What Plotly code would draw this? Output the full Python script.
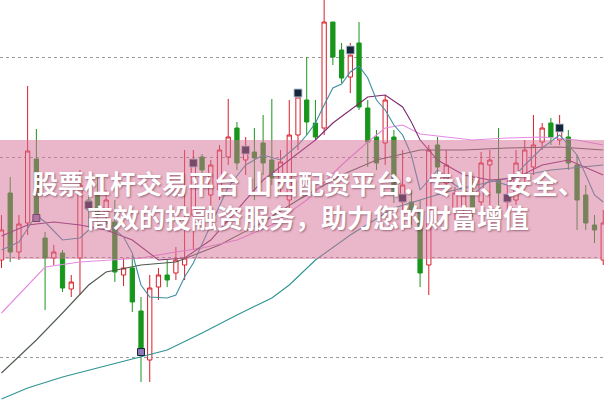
import plotly.graph_objects as go

# ---- candle data (index = trading day) ----
idx = list(range(70))
opens = [19.7, 26.4, 20.5, 23.4, 29.8, 21.9, 19.9, 20.4, 16.8, 19.9,
         25.7, 26.2, 24.5, 23.5, 18.2, 18.9, 14.6, 9.7, 17.0, 18.2,
         18.4, 19.2, 24.2, 30.0, 26.2, 26.7, 30.0, 32.9, 29.7, 30.5,
         31.4, 29.7, 27.4, 25.7, 32.2, 35.7, 33.4, 32.9, 43.5, 40.7,
         38.0, 41.4, 34.9, 32.0, 31.4, 32.0, 25.5, 25.5, 24.7, 19.2,
         31.2, 27.4, 24.9, 24.9, 26.5, 25.5, 29.2, 27.7, 25.5, 25.7,
         28.2, 29.0, 31.5, 33.4, 31.7, 32.0, 29.2, 26.2, 23.2, 19.7]
highs = [24.2, 28.0, 24.2, 37.1, 32.8, 22.5, 21.2, 20.7, 18.2, 28.7,
         26.2, 28.2, 26.7, 25.7, 19.9, 20.2, 16.0, 18.2, 18.9, 19.7,
         21.0, 30.7, 30.7, 30.3, 29.7, 31.2, 35.8, 33.5, 32.0, 32.9,
         34.2, 35.8, 30.7, 35.7, 36.5, 40.0, 35.7, 45.7, 43.5, 41.4,
         41.4, 43.5, 35.7, 32.7, 36.2, 32.7, 30.7, 26.7, 25.7, 31.2,
         32.0, 30.7, 27.0, 27.2, 28.0, 30.5, 30.7, 32.9, 27.7, 30.7,
         31.7, 34.2, 33.4, 33.9, 34.2, 32.7, 30.2, 27.2, 24.2, 24.7]
lows = [18.9, 19.5, 19.7, 22.2, 23.5, 14.7, 19.2, 16.5, 16.0, 16.2,
        22.9, 23.2, 23.2, 17.5, 17.1, 14.5, 7.5, 7.5, 15.7, 17.0,
        17.7, 17.7, 20.7, 27.7, 24.7, 25.7, 29.2, 28.7, 28.2, 25.7,
        28.2, 27.2, 26.2, 24.7, 30.7, 32.2, 31.7, 32.2, 39.2, 37.4,
        36.4, 34.7, 29.0, 28.7, 29.2, 25.4, 24.2, 23.2, 17.0, 16.2,
        28.2, 26.2, 23.7, 24.2, 24.0, 24.7, 25.0, 25.0, 22.7, 25.2,
        27.2, 28.2, 30.7, 31.2, 31.2, 28.7, 22.7, 22.7, 21.4, 19.2]
closes = [22.7, 20.5, 23.3, 30.6, 23.9, 19.9, 20.5, 16.9, 17.5, 27.2,
          24.7, 24.2, 25.7, 18.5, 18.9, 15.5, 10.5, 16.9, 18.2, 17.7,
          19.7, 19.9, 29.2, 28.7, 29.2, 30.7, 32.0, 29.4, 30.9, 29.9,
          29.4, 27.9, 29.5, 32.2, 36.0, 33.5, 32.0, 43.5, 40.0, 37.9,
          40.2, 35.0, 31.5, 29.4, 35.7, 26.4, 27.2, 24.7, 18.4, 30.7,
          29.0, 29.2, 26.4, 26.2, 24.9, 29.4, 29.7, 26.4, 26.2, 29.4,
          30.7, 31.2, 32.9, 32.0, 32.9, 29.4, 25.7, 23.4, 22.7, 23.4]

# ---- moving average lines ----
ma5_idx = [0, 2, 4, 5, 7, 9, 10, 12, 14, 15, 16, 17, 19, 20, 21, 22, 24, 26, 28, 30,
           32, 34, 35, 36, 37, 38, 39, 40, 41, 42, 43, 44, 45, 46, 47, 48, 50, 52,
           54, 56, 58, 60, 62, 64, 66, 68, 69]
ma5_val = [20.7, 21.5, 24.2, 23.5, 21.7, 21.9, 22.7, 23.5, 22.0, 20.4, 17.2, 16.0, 15.9,
           16.2, 18.0, 19.4, 23.2, 27.0, 29.2, 30.2, 29.7, 31.2, 32.2, 33.4, 35.2, 36.9,
           37.3, 38.5, 39.1, 37.9, 35.7, 34.7, 33.2, 32.2, 30.2, 26.7, 28.7, 27.2, 26.2,
           27.7, 27.2, 29.2, 30.9, 32.2, 30.2, 26.2, 25.5]

ma10_idx = [0, 3, 6, 9, 12, 15, 18, 21, 24, 27, 30, 33, 36, 38, 40, 42, 44, 46, 47,
            48, 50, 53, 56, 59, 62, 65, 69]
ma10_val = [22.1, 23.2, 23.5, 23.2, 22.7, 21.7, 19.7, 19.9, 21.7, 24.7, 27.7, 29.7, 31.7,
            33.4, 34.7, 36.0, 36.2, 35.0, 33.5, 31.7, 29.7, 28.2, 27.7, 27.9, 29.2, 29.7,
            28.2]

ma20_idx = [0, 3, 5, 9, 13, 16, 20, 23, 27, 31, 35, 39, 42, 44, 46, 48, 51, 54, 58,
            62, 66, 69]
ma20_val = [14.4, 17.2, 19.0, 19.5, 19.7, 19.9, 20.5, 20.9, 21.7, 23.2, 25.7, 29.2, 31.5,
            32.9, 33.2, 32.3, 32.0, 31.7, 31.9, 32.0, 31.7, 31.2]

ma30_idx = [0, 4, 7, 10, 12, 16, 20, 25, 30, 34, 39, 43, 48, 53, 58, 64, 69]
ma30_val = [8.4, 11.7, 14.4, 17.2, 18.5, 19.2, 19.5, 21.2, 23.5, 25.7, 28.2, 29.7, 30.7,
            30.7, 30.9, 31.0, 30.7]

ma60_idx = [0, 3, 7, 11, 16, 19, 23, 27, 31, 33, 36, 40, 45, 51, 57, 63, 69]
ma60_val = [5.8, 6.9, 8.0, 8.9, 10.0, 10.7, 12.4, 14.2, 15.9, 17.2, 19.7, 22.2, 24.9,
            26.5, 27.7, 28.7, 29.2]

# signal marks
sig_idx = [10, 22, 28, 34, 40, 46, 58, 64]
sig_val = [25.2, 29.4, 30.7, 36.4, 40.7, 25.9, 25.9, 32.9]
sig2_idx = [4, 16]
sig2_val = [23.9, 10.5]

grid_prices = [10, 20, 30, 40]

title_text = "股票杠杆交易平台 山西配资平台：专业、安全、<br>高效的投融资服务，助力您的财富增值"

fig = go.Figure()

line_specs = [
    (ma60_idx, ma60_val, "#2f9494"),
    (ma30_idx, ma30_val, "#4f5a4f"),
    (ma20_idx, ma20_val, "#e48be2"),
    (ma10_idx, ma10_val, "#7d2a6d"),
    (ma5_idx, ma5_val, "#3f8ea2"),
]
for xs, ys, col in line_specs:
    fig.add_trace(go.Scatter(x=xs, y=ys, mode="lines",
                             line=dict(color=col, width=1.1),
                             hoverinfo="skip", showlegend=False))

fig.add_trace(go.Candlestick(
    x=idx, open=opens, high=highs, low=lows, close=closes,
    increasing=dict(line=dict(color="#d81e2a", width=1), fillcolor="white"),
    decreasing=dict(line=dict(color="#17961b", width=1), fillcolor="#17961b"),
    whiskerwidth=0, showlegend=False, hoverinfo="skip"))

fig.add_trace(go.Scatter(x=sig_idx, y=sig_val, mode="markers",
                         marker=dict(symbol="square", size=8, color="#15263a",
                                     line=dict(color="#b9c8d8", width=1)),
                         hoverinfo="skip", showlegend=False))
fig.add_trace(go.Scatter(x=sig2_idx, y=sig2_val, mode="markers",
                         marker=dict(symbol="square", size=7, color="#8d78b5",
                                     line=dict(color="#15263a", width=1)),
                         hoverinfo="skip", showlegend=False))

# translucent pink banner
fig.add_shape(type="rect", xref="paper", yref="paper",
              x0=0, x1=1, y0=1 - 259 / 401, y1=1 - 140 / 401,
              fillcolor="rgba(214,112,150,0.5)", line=dict(width=0),
              layer="above")

font_t = dict(family="Noto Sans CJK SC", size=26, color="white", weight="bold",
              shadow="1px 1px 2px rgba(90,40,60,0.55)")
fig.add_annotation(text=title_text, xref="paper", yref="paper",
                   x=308 / 604, y=1 - 199 / 401, xanchor="center", yanchor="middle",
                   align="center", showarrow=False, font=font_t)

fig.update_layout(
    width=604, height=401,
    margin=dict(l=0, r=0, t=0, b=0),
    paper_bgcolor="white", plot_bgcolor="white",
    showlegend=False,
    xaxis=dict(range=[-0.17, 69.09], visible=False, rangeslider=dict(visible=False),
               fixedrange=True),
    yaxis=dict(range=[5.6, 45.7], tickvals=grid_prices, showticklabels=False,
               showgrid=True, gridcolor="#9a9a9a", griddash="dot", gridwidth=1,
               zeroline=False, showline=False, fixedrange=True),
)

fig.write_html("out.html", config={"displayModeBar": False},
               post_script="document.body.style.margin='0';")
